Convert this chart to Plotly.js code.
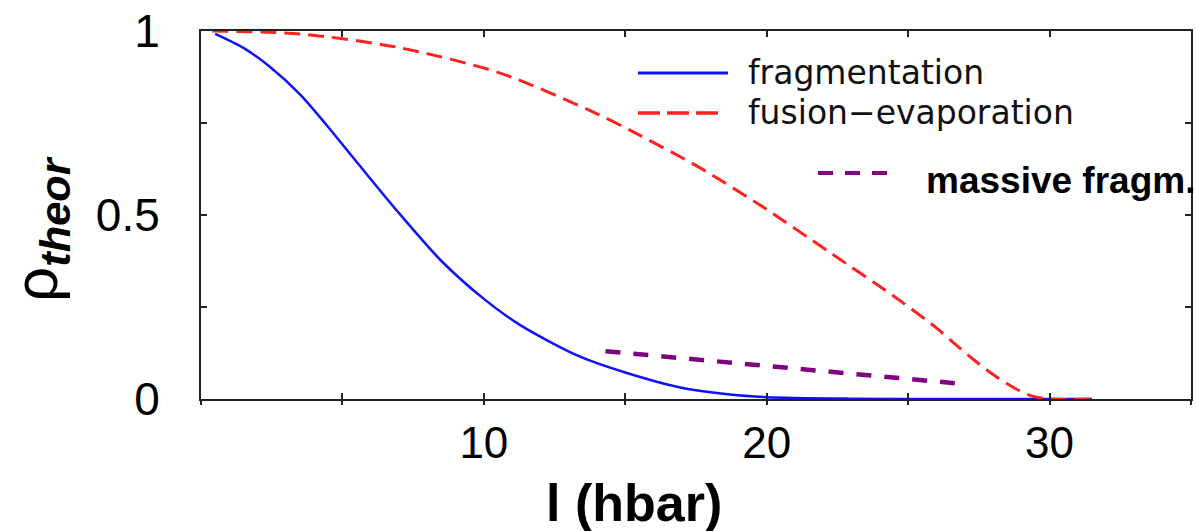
<!DOCTYPE html>
<html>
<head>
<meta charset="utf-8">
<script src="https://cdn.plot.ly/plotly-3.0.1.min.js"></script>
<style>
  html, body { margin: 0; padding: 0; background: #ffffff; }
  #chart { width: 1196px; height: 531px; }
</style>
</head>
<body>
<div id="chart"></div>
<script>
// Angular momentum l (hbar) and theoretical probabilities rho_theor
const fragL = [0.5, 1.5, 2.4, 3.5, 4.4, 5.6, 7.0, 8.5, 10.0, 11.3, 13.4, 15.0, 16.9, 18.7, 20.0, 22.9, 26.0, 31.5];
const fragRho = [0.992, 0.954, 0.905, 0.828, 0.748, 0.635, 0.505, 0.375, 0.272, 0.200, 0.115, 0.072, 0.032, 0.012, 0.005, 0.001, 0.0, 0.0];

const fusionL = [0.4, 3.5, 7.0, 10.6, 14.0, 15.3, 17.6, 19.8, 22.2, 24.7, 26.05, 26.65, 27.3, 28.03, 28.8, 29.3, 30.0, 31.5];
const fusionRho = [1.0, 0.992, 0.955, 0.885, 0.775, 0.725, 0.63, 0.525, 0.40, 0.268, 0.19, 0.150, 0.108, 0.065, 0.028, 0.010, 0.0, 0.0];

const massiveL = [14.3, 26.65];
const massiveRho = [0.130, 0.043];

const xTickVals = [10, 20, 30];
const xTickText = ['10', '20', '30'];
const xMinorStep = 5;
const yTickVals = [0, 0.5, 1];
const yTickText = ['0', '0.5', '1'];
const yMinorStep = 0.25;

const legendNames = ['fragmentation', 'fusion\u2212evaporation', 'massive fragm.'];

// Page geometry of the plotting box (pixels)
const W = 1196, H = 531;
const M = { l: 201, r: 5, t: 31, b: 132 };
const plotW = W - M.l - M.r, plotH = H - M.t - M.b;
const px = x => (x - M.l) / plotW;           // page pixel -> paper x
const py = y => (H - M.b - y) / plotH;       // page pixel -> paper y

const COLORS = { frag: '#1010ff', fusion: '#ff2020', massive: '#800080' };
const DASH_FUSION = '16px,8px';
const DASH_MASSIVE = '15px,13px';
const INK = '#222';

const traces = [
  { x: fragL, y: fragRho, mode: 'lines', line: { color: COLORS.frag, width: 2.5, shape: 'spline', smoothing: 0.8 }, name: legendNames[0], hoverinfo: 'skip' },
  { x: fusionL, y: fusionRho, mode: 'lines', line: { color: COLORS.fusion, width: 3, dash: DASH_FUSION, shape: 'spline', smoothing: 0.8 }, name: legendNames[1], hoverinfo: 'skip' },
  { x: massiveL, y: massiveRho, mode: 'lines', line: { color: COLORS.massive, width: 4.5, dash: DASH_MASSIVE }, name: legendNames[2], hoverinfo: 'skip' },
  // empty series that only anchors the companion tick axis
  { x: [], y: [], xaxis: 'x2', yaxis: 'y', mode: 'lines', hoverinfo: 'skip', showlegend: false }
];

const axisCommon = {
  showline: true, linecolor: INK, linewidth: 2, mirror: 'ticks',
  ticks: 'inside', ticklen: 6, tickwidth: 2, tickcolor: INK,
  showgrid: false, zeroline: false, fixedrange: true
};

// Hand-placed key: sample strokes plus labels
const keyShapes = [
  { type: 'line', xref: 'paper', yref: 'paper', x0: px(638), x1: px(728), y0: py(73), y1: py(73), line: { color: COLORS.frag, width: 3 } },
  { type: 'line', xref: 'paper', yref: 'paper', x0: px(638), x1: px(722), y0: py(113), y1: py(113), line: { color: COLORS.fusion, width: 3.5, dash: '22px,7px' } },
  { type: 'line', xref: 'paper', yref: 'paper', x0: px(818), x1: px(892), y0: py(173), y1: py(173), line: { color: COLORS.massive, width: 4, dash: '15px,12px' } }
];

const keyFont = { family: 'DejaVu Sans, sans-serif', size: 33, color: '#111' };
const annotations = [
  { xref: 'paper', yref: 'paper', x: px(746), y: py(72), xanchor: 'left', yanchor: 'middle', text: legendNames[0], showarrow: false, font: keyFont },
  { xref: 'paper', yref: 'paper', x: px(746), y: py(112), xanchor: 'left', yanchor: 'middle', text: legendNames[1], showarrow: false, font: keyFont },
  { xref: 'paper', yref: 'paper', x: px(924), y: py(180), xanchor: 'left', yanchor: 'middle', text: '<b>' + legendNames[2] + '</b>', showarrow: false,
    font: { family: 'Liberation Sans, Arial, sans-serif', size: 37, color: '#000' } },
  // axis titles
  { xref: 'paper', yref: 'paper', x: px(634), y: py(503), xanchor: 'center', yanchor: 'middle', text: '<b>l (hbar)</b>', showarrow: false,
    font: { family: 'Liberation Sans, Arial, sans-serif', size: 52, color: '#000' } },
  { xref: 'paper', yref: 'paper', x: px(40), y: py(229), xanchor: 'center', yanchor: 'middle', textangle: -90,
    text: '\u03c1<sub><b><i>theor</i></b></sub>', showarrow: false,
    font: { family: 'Liberation Sans, Arial, sans-serif', size: 62, color: '#000' } }
];

const layout = {
  width: W, height: H,
  margin: M,
  paper_bgcolor: '#ffffff', plot_bgcolor: '#ffffff',
  showlegend: false,
  xaxis: Object.assign({}, axisCommon, {
    range: [0, 35], tickvals: xTickVals, ticktext: xTickText,
    minor: { dtick: xMinorStep, tick0: 0, ticks: 'inside', ticklen: 6, tickwidth: 2, tickcolor: INK },
    tickfont: { family: 'Liberation Sans, Arial, sans-serif', size: 44, color: '#000' },
    ticklabelstandoff: 4
  }),
  // companion bottom axis: short outward stubs so the bottom ticks cross the frame
  xaxis2: {
    overlaying: 'x', anchor: 'y', side: 'bottom', range: [0, 35], fixedrange: true,
    dtick: xMinorStep, tick0: 0, ticks: 'outside', ticklen: 5, tickwidth: 2, tickcolor: INK,
    showticklabels: false, showline: false, showgrid: false, zeroline: false
  },
  yaxis: Object.assign({}, axisCommon, {
    range: [0, 1], tickvals: yTickVals, ticktext: yTickText,
    minor: { dtick: yMinorStep, tick0: 0, ticks: 'inside', ticklen: 6, tickwidth: 2, tickcolor: INK },
    tickfont: { family: 'Liberation Sans, Arial, sans-serif', size: 46, color: '#000' },
    ticklabelstandoff: 30
  }),
  shapes: keyShapes,
  annotations: annotations
};

Plotly.newPlot('chart', traces, layout, { displayModeBar: false, staticPlot: true });
</script>
</body>
</html>
